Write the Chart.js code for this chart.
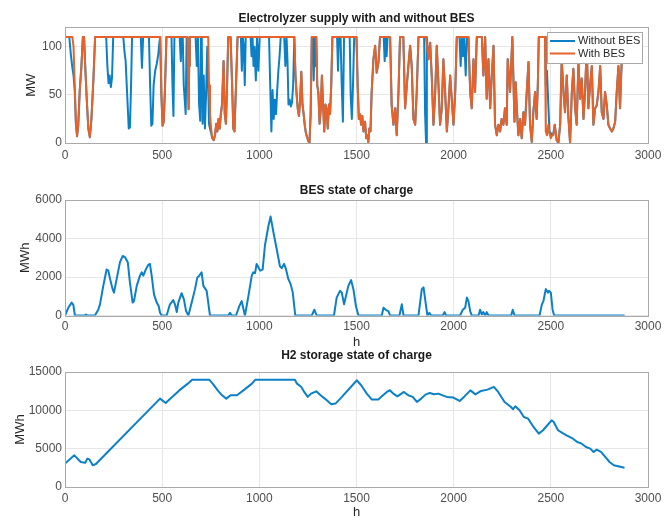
<!DOCTYPE html>
<html>
<head>
<meta charset="utf-8">
<script src="https://cdn.jsdelivr.net/npm/chart.js@4.4.0/dist/chart.umd.min.js"></script>
<style>
  body { margin: 0; background: #fff; }
  #wrap { position: relative; width: 670px; height: 521px; }
  canvas { position: absolute; left: 0; }
</style>
</head>
<body>
<div id="wrap">
  <canvas id="supplyChart" width="670" height="165" style="top:0px;width:670px;height:165px"></canvas>
  <canvas id="besChart" width="670" height="185" style="top:165px;width:670px;height:185px"></canvas>
  <canvas id="h2Chart" width="670" height="181" style="top:340px;width:670px;height:181px"></canvas>
</div>
<script>
// tick labels
const hourTicks = [0, 500, 1000, 1500, 2000, 2500, 3000];
const mwTicks = [0, 50, 100];
const besTicks = [0, 2000, 4000, 6000];
const h2Ticks = [0, 5000, 10000, 15000];

// electrolyzer supply (MW)
const supplyHours = [
  0, 22, 30, 38, 44, 50, 56, 62, 68, 76,
  84, 92, 98, 104, 112, 120, 128, 136, 146, 155,
  212, 218, 224, 230, 236, 242, 248, 300, 306, 312,
  320, 328, 334, 340, 345, 390, 396, 402, 432, 438,
  444, 450, 456, 464, 472, 480, 486, 490, 496, 502,
  508, 515, 522, 548, 553, 558, 563, 590, 596, 600,
  606, 611, 616, 621, 626, 630, 633, 636, 639, 642,
  672, 678, 684, 690, 696, 700, 704, 708, 714, 720,
  726, 732, 737, 741, 746, 752, 758, 765, 772, 778,
  784, 790, 796, 802, 808, 816, 822, 828, 834, 840,
  852, 860, 866, 872, 880, 888, 905, 910, 915, 920,
  925, 930, 955, 960, 965, 970, 975, 982, 988, 995,
  1002, 1050, 1056, 1062, 1068, 1074, 1080, 1086, 1092, 1098,
  1104, 1110, 1128, 1134, 1140, 1145, 1150, 1156, 1162, 1168,
  1174, 1180, 1186, 1192, 1198, 1204, 1210, 1216, 1222, 1228,
  1234, 1240, 1246, 1252, 1258, 1264, 1270, 1276, 1280, 1284,
  1288, 1293, 1298, 1304, 1310, 1316, 1322, 1328, 1334, 1340,
  1346, 1352, 1358, 1364, 1370, 1376, 1400, 1405, 1410, 1418,
  1424, 1430, 1436, 1465, 1470, 1476, 1482, 1488, 1500, 1506,
  1512, 1518, 1524, 1530, 1536, 1544, 1550, 1556, 1561, 1566,
  1572, 1578, 1587, 1596, 1604, 1613, 1621, 1640, 1645, 1650,
  1655, 1660, 1673, 1681, 1690, 1699, 1707, 1716, 1724, 1741,
  1750, 1759, 1767, 1776, 1784, 1793, 1802, 1810, 1819, 1848,
  1853, 1858, 1862, 1870, 1879, 1887, 1896, 1905, 1913, 1922,
  1930, 1939, 1947, 1956, 1965, 1973, 1982, 1990, 1999, 2008,
  2016, 2030, 2036, 2042, 2048, 2054, 2062, 2068, 2076, 2085,
  2093, 2102, 2110, 2119, 2145, 2153, 2162, 2170, 2179, 2188,
  2196, 2205, 2213, 2222, 2230, 2239, 2247, 2256, 2264, 2273,
  2278, 2290, 2302, 2313, 2319, 2325, 2333, 2342, 2350, 2359,
  2367, 2376, 2385, 2393, 2402, 2410, 2419, 2427, 2433, 2438,
  2470, 2474, 2480, 2487, 2493, 2500, 2506, 2513, 2520, 2530,
  2539, 2548, 2556, 2565, 2573, 2582, 2590, 2599, 2608, 2616,
  2625, 2633, 2642, 2651, 2659, 2668, 2676, 2685, 2693, 2702,
  2711, 2719, 2728, 2736, 2745, 2754, 2762, 2771, 2779, 2788,
  2796, 2805, 2814, 2822, 2831, 2839, 2848, 2856, 2865, 2874,
  2880
];
const withoutBES = [
  110, 110, 92, 78, 70, 55, 20, 7, 18, 55,
  78, 110, 110, 80, 45, 15, 6, 25, 65, 110,
  110, 80, 62, 70, 58, 68, 110, 110, 95, 85,
  50, 15, 16, 60, 110, 110, 78, 110, 110, 60,
  18, 20, 60, 75, 82, 92, 105, 110, 50, 18,
  22, 60, 110, 110, 60, 28, 110, 110, 85, 110,
  110, 60, 45, 30, 110, 110, 70, 35, 80, 110,
  110, 80, 110, 40, 23, 110, 100, 20, 70, 15,
  50, 100, 60, 20, 15, 10, 5, 3, 8, 20,
  12, 25, 15, 30, 40, 85, 30, 20, 60, 110,
  110, 60, 15, 12, 60, 110, 110, 75, 110, 100,
  60, 110, 110, 90, 110, 80, 100, 65, 110, 75,
  110, 110, 60, 12, 55, 25, 45, 30, 55, 75,
  90, 110, 110, 80, 110, 85, 40, 45, 38, 42,
  60, 110, 70, 50, 35, 28, 45, 74, 40, 30,
  18, 10, 6, 2, 0, 30, 110, 110, 65, 110,
  80, 110, 60, 52, 20, 35, 70, 40, 12, 40,
  35, 15, 40, 30, 60, 110, 110, 75, 110, 110,
  60, 22, 110, 110, 50, 25, 60, 110, 110, 60,
  25, 30, 19, 28, 12, 22, 5, 8, 1, 15,
  12, 53, 87, 101, 73, 84, 110, 110, 85, 110,
  90, 110, 110, 39, 19, 36, 8, 53, 110, 110,
  36, 60, 80, 101, 80, 25, 19, 53, 110, 110,
  30, 0, 110, 87, 104, 70, 19, 53, 101, 60,
  19, 36, 87, 53, 12, 36, 70, 46, 19, 53,
  110, 110, 80, 110, 90, 110, 70, 110, 110, 53,
  36, 87, 53, 110, 110, 70, 110, 46, 87, 36,
  70, 101, 19, 8, 19, 12, 25, 19, 36, 19,
  87, 53, 110, 22, 63, 36, 8, 25, 5, 32,
  19, 53, 84, 19, 1, 32, 53, 25, 60, 110,
  110, 60, 75, 40, 12, 10, 8, 10, 19, 3,
  0, 19, 87, 53, 32, 70, 28, 0, 53, 77,
  36, 19, 84, 46, 67, 25, 53, 101, 36, 60,
  80, 19, 36, 39, 53, 80, 32, 25, 53, 39,
  19, 15, 12, 15, 22, 53, 80, 36, 87, 101,
  90
];
const withBES = [
  110, 110, 110, 110, 100, 60, 22, 7, 18, 55,
  78, 110, 110, 80, 45, 15, 6, 25, 65, 110,
  110, 110, 110, 110, 110, 110, 110, 110, 110, 110,
  110, 110, 110, 110, 110, 110, 110, 110, 110, 110,
  110, 110, 110, 110, 110, 110, 110, 110, 50, 18,
  22, 60, 110, 110, 110, 110, 110, 110, 110, 110,
  110, 110, 110, 110, 110, 110, 70, 35, 80, 110,
  110, 110, 110, 110, 110, 110, 110, 110, 110, 110,
  110, 110, 110, 60, 30, 15, 5, 3, 8, 20,
  12, 25, 15, 30, 40, 85, 30, 20, 60, 110,
  110, 60, 15, 12, 60, 110, 110, 110, 110, 110,
  110, 110, 110, 110, 110, 110, 110, 110, 110, 110,
  110, 110, 110, 110, 110, 110, 110, 110, 110, 110,
  110, 110, 110, 110, 110, 110, 110, 110, 110, 110,
  110, 110, 70, 50, 35, 28, 45, 74, 40, 30,
  18, 10, 6, 2, 0, 30, 110, 110, 110, 110,
  110, 110, 60, 52, 20, 35, 70, 40, 12, 40,
  35, 15, 40, 30, 60, 110, 110, 110, 110, 110,
  110, 110, 110, 110, 110, 110, 110, 110, 110, 60,
  25, 30, 19, 28, 12, 22, 5, 8, 1, 15,
  12, 53, 87, 101, 73, 84, 110, 110, 110, 110,
  110, 110, 110, 39, 19, 36, 8, 53, 110, 110,
  36, 60, 80, 101, 80, 25, 19, 53, 110, 110,
  110, 110, 110, 87, 104, 70, 19, 53, 101, 60,
  19, 36, 87, 53, 12, 36, 70, 46, 19, 53,
  110, 110, 110, 110, 110, 110, 110, 110, 110, 53,
  36, 87, 53, 110, 110, 70, 110, 46, 87, 36,
  70, 101, 19, 8, 19, 12, 25, 19, 36, 19,
  87, 53, 110, 22, 63, 36, 8, 25, 5, 32,
  19, 53, 84, 19, 1, 32, 53, 25, 60, 110,
  110, 12, 8, 19, 10, 5, 8, 8, 19, 3,
  0, 19, 87, 53, 32, 70, 28, 0, 53, 77,
  36, 19, 84, 46, 67, 25, 53, 101, 36, 60,
  80, 19, 36, 39, 53, 80, 32, 25, 53, 39,
  19, 15, 12, 15, 22, 53, 80, 36, 87, 101,
  90
];

// BES state of charge (MWh)
const besHours = [
  0, 17, 34, 43, 51, 100, 108, 116, 154, 171,
  180, 197, 214, 223, 232, 245, 252, 266, 283, 297,
  309, 323, 334, 348, 355, 369, 386, 395, 403, 417,
  429, 437, 446, 458, 472, 482, 489, 498, 523, 540,
  557, 566, 575, 583, 600, 612, 623, 635, 652, 669,
  681, 691, 703, 712, 729, 746, 840, 849, 858, 880,
  897, 909, 918, 926, 944, 961, 969, 978, 986, 995,
  1004, 1017, 1029, 1046, 1058, 1072, 1089, 1106, 1115, 1127,
  1137, 1149, 1161, 1172, 1185, 1270, 1283, 1295, 1384, 1398,
  1415, 1424, 1436, 1446, 1458, 1472, 1484, 1497, 1510, 1630,
  1639, 1652, 1664, 1673, 1721, 1733, 1742, 1819, 1836, 1845,
  1858, 1865, 1875, 1884, 1944, 1953, 1961, 2033, 2047, 2059,
  2068, 2076, 2085, 2093, 2128, 2136, 2145, 2153, 2162, 2170,
  2179, 2296, 2304, 2313, 2442, 2454, 2462, 2474, 2485, 2491,
  2500, 2509, 2517, 2880
];
const besSoc = [
  0, 400, 670, 550, 0, 0, 50, 0, 0, 300,
  580, 1540, 2390, 2330, 1900, 1370, 1190, 1900, 2770, 3090,
  3030, 2770, 1720, 670, 750, 1540, 2070, 2245, 2070, 2420,
  2630, 2680, 2070, 1100, 670, 490, 140, 0, 0, 580,
  800, 580, 175, 670, 1160, 840, 230, 0, 670, 1370,
  1980, 2070, 2245, 1540, 1280, 0, 0, 140, 0, 0,
  490, 750, 350, 0, 1020, 2070, 2245, 2200, 2680, 2510,
  2330, 2380, 3650, 4610, 5140, 4350, 3470, 2560, 2460, 2680,
  2420, 1900, 1630, 1190, 0, 0, 300, 0, 0, 930,
  1280, 1200, 580, 1020, 1540, 1840, 1370, 490, 0, 0,
  400, 280, 230, 0, 0, 580, 0, 0, 1370, 1460,
  490, 0, 140, 0, 0, 175, 0, 0, 300, 400,
  930, 750, 230, 0, 0, 300, 50, 175, 0, 175,
  0, 0, 300, 0, 0, 580, 750, 1370, 1190, 1280,
  1190, 300, 0, 0
];

// H2 storage state of charge (MWh)
const h2Hours = [
  0, 48, 81, 104, 115, 126, 143, 159, 489, 518,
  533, 588, 632, 654, 742, 760, 786, 808, 830, 852,
  885, 918, 962, 980, 1183, 1194, 1216, 1231, 1249, 1266,
  1293, 1315, 1337, 1370, 1392, 1425, 1502, 1524, 1553, 1579,
  1612, 1623, 1656, 1672, 1689, 1711, 1744, 1766, 1789, 1811,
  1833, 1855, 1877, 1899, 1921, 1943, 1965, 1998, 2031, 2053,
  2086, 2112, 2141, 2174, 2207, 2229, 2262, 2295, 2306, 2317,
  2339, 2361, 2383, 2405, 2438, 2460, 2504, 2515, 2537, 2559,
  2581, 2614, 2636, 2659, 2681, 2703, 2720, 2736, 2758, 2780,
  2802, 2824, 2846, 2879
];
const h2Soc = [
  3050, 4130, 3260, 3175, 3700, 3600, 2830, 3000, 11530, 10960,
  11300, 12600, 13480, 14000, 14000, 13480, 12600, 11960, 11530, 11960,
  11960, 12600, 13480, 14000, 14000, 13480, 13050, 12400, 11750, 12180,
  12480, 11960, 11530, 10790, 10880, 11750, 13920, 13270, 12180, 11400,
  11400, 11660, 12400, 12620, 12180, 11830, 12400, 11960, 11750, 11090,
  11530, 12050, 12270, 12100, 12180, 11960, 11750, 11660, 11220, 11750,
  12600, 12080, 12530, 12700, 13050, 12400, 11090, 10440, 10140, 10530,
  10010, 9135, 8920, 8050, 6960, 7400, 8700, 8480, 7400, 7050,
  6740, 6300, 5870, 5650, 5220, 5000, 4570, 4870, 4570, 3920,
  3260, 2830, 2700, 2520
];

const blue = '#0b80c6';
const orange = '#e6622a';
const gridColor = '#e6e6e6';
const boxColor = '#a9a9a9';
const FONT = "'Liberation Sans', Arial, Helvetica, sans-serif";

Chart.defaults.font.family = FONT;
Chart.defaults.color = '#4d4d4d';

function toPoints(xs, ys) {
  return xs.map((x, i) => ({ x: x, y: ys[i] }));
}

// matlab style box round the plot area
const boxPlugin = {
  id: 'box',
  afterDatasetsDraw(chart) {
    const { ctx, chartArea: a } = chart;
    ctx.save();
    ctx.strokeStyle = boxColor;
    ctx.lineWidth = 1;
    ctx.strokeRect(Math.round(a.left) + 0.5, Math.round(a.top) + 0.5,
      Math.round(a.right - a.left), Math.round(a.bottom - a.top));
    ctx.restore();
  }
};

// legend inside the top right corner, with a frame
const legendBoxPlugin = {
  id: 'legendBox',
  afterDraw(chart) {
    const { ctx, chartArea: a } = chart;
    const w = 95, h = 31;
    const x = Math.round(a.right) - w - 6, y = Math.round(a.top) + 5;
    ctx.save();
    ctx.fillStyle = '#fff';
    ctx.fillRect(x, y, w, h);
    ctx.strokeStyle = boxColor;
    ctx.lineWidth = 1;
    ctx.strokeRect(x + 0.5, y + 0.5, w, h);
    ctx.font = '11px ' + FONT;
    ctx.textBaseline = 'middle';
    chart.data.datasets.forEach((ds, i) => {
      const ly = y + 9 + i * 12.5;
      ctx.strokeStyle = ds.borderColor;
      ctx.lineWidth = 2;
      ctx.beginPath();
      ctx.moveTo(x + 3, ly);
      ctx.lineTo(x + 28, ly);
      ctx.stroke();
      ctx.fillStyle = '#262626';
      ctx.fillText(ds.label, x + 31, ly);
    });
    ctx.restore();
  }
};

function xScale(height, showTitle, titleBottom, tickPad) {
  return {
    type: 'linear',
    min: 0,
    max: 3000,
    afterBuildTicks: s => { s.ticks = hourTicks.map(v => ({ value: v })); },
    afterFit: s => { s.height = height; },
    grid: { color: gridColor, drawTicks: false },
    border: { display: false },
    ticks: { padding: tickPad, font: { size: 12 }, color: '#4d4d4d', callback: v => String(v) },
    title: {
      display: showTitle, text: 'h', color: '#262626',
      font: { size: 13 }, padding: { top: 0, bottom: titleBottom }
    }
  };
}

function yScale(label, max, ticks, titleLeft) {
  return {
    min: 0,
    max: max,
    afterBuildTicks: s => { s.ticks = ticks.map(v => ({ value: v })); },
    afterFit: s => { s.width = 65; },
    grid: { color: gridColor, drawTicks: false },
    border: { display: false },
    ticks: { padding: 3, font: { size: 12 }, color: '#4d4d4d', callback: v => String(v) },
    title: {
      display: true, text: label, color: '#262626',
      font: { size: 13 }, padding: { top: titleLeft, bottom: 0 }
    }
  };
}

function panelOptions(title, titlePad, x, y) {
  return {
    responsive: false,
    animation: false,
    layout: { padding: { left: 0, right: 22, top: 0, bottom: 0 } },
    plugins: {
      legend: { display: false },
      tooltip: { enabled: false },
      title: {
        display: true, text: title, fullSize: false, color: '#1a1a1a',
        font: { size: 12, weight: 'bold' }, padding: titlePad
      }
    },
    scales: { x: x, y: y }
  };
}

function lineSet(label, points, color, order) {
  return {
    label: label, data: points, borderColor: color, backgroundColor: color,
    borderWidth: 2, pointRadius: 0, tension: 0, order: order,
    borderJoinStyle: 'round'
  };
}

new Chart(document.getElementById('supplyChart'), {
  type: 'line',
  data: {
    datasets: [
      lineSet('Without BES', toPoints(supplyHours, withoutBES), blue, 1),
      lineSet('With BES', toPoints(supplyHours, withBES), orange, 0)
    ]
  },
  options: panelOptions('Electrolyzer supply with and without BES', { top: 11, bottom: 2 },
    xScale(22, false, 0, 5), yScale('MW', 120, mwTicks, 24)),
  plugins: [boxPlugin, legendBoxPlugin]
});

new Chart(document.getElementById('besChart'), {
  type: 'line',
  data: { datasets: [lineSet('BES', toPoints(besHours, besSoc), blue, 0)] },
  options: panelOptions('BES state of charge', { top: 18.5, bottom: 2.1 },
    xScale(34.5, true, 0, 4), yScale('MWh', 6000, besTicks, 18)),
  plugins: [boxPlugin]
});

new Chart(document.getElementById('h2Chart'), {
  type: 'line',
  data: { datasets: [lineSet('H2', toPoints(h2Hours, h2Soc), blue, 0)] },
  options: panelOptions('H2 storage state of charge', { top: 8.8, bottom: 8.8 },
    xScale(34, true, 1, 4), yScale('MWh', 15000, h2Ticks, 12.5)),
  plugins: [boxPlugin]
});
</script>
</body>
</html>
